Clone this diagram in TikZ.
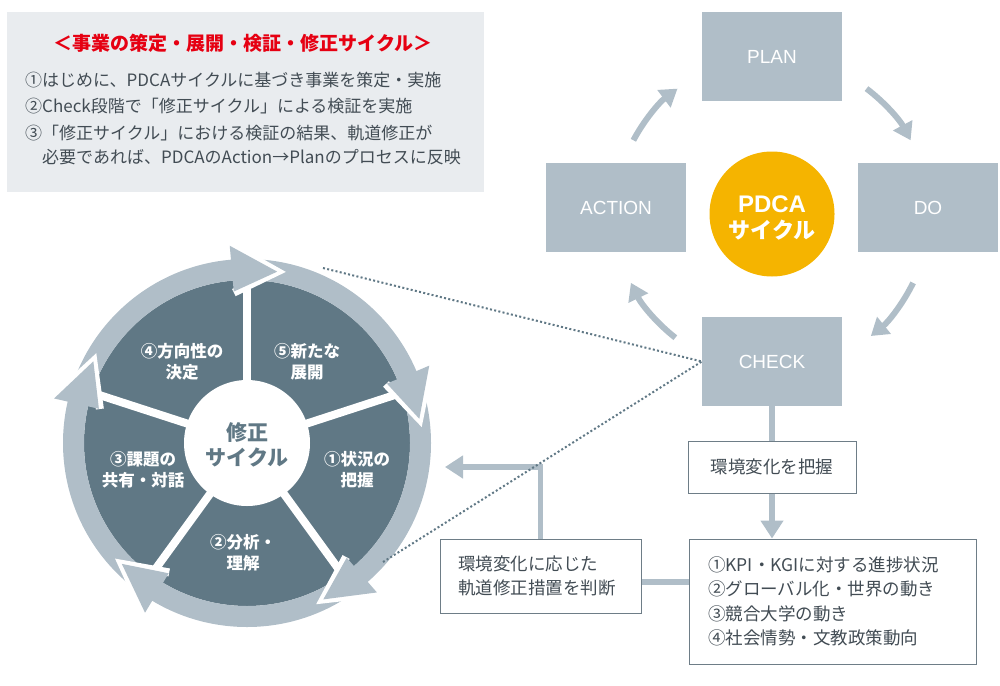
\documentclass[tikz,border=0pt]{standalone}
\usepackage{fontspec}
\setmainfont{Noto Sans CJK JP}
\newfontfamily\boxfont{Liberation Sans}
\usetikzlibrary{arrows.meta}
\definecolor{boxgray}{RGB}{176,190,200}
\definecolor{slate}{RGB}{96,120,133}
\definecolor{notebg}{RGB}{233,236,239}
\definecolor{pdcaorange}{RGB}{245,180,0}
\definecolor{titlered}{RGB}{230,0,18}
\definecolor{textgray}{RGB}{66,76,84}
\definecolor{edgegray}{RGB}{110,125,135}
\newcommand{\fsz}[2]{\fontsize{#1}{#2}\selectfont}

\begin{document}
\begin{tikzpicture}[x=1pt,y=-1pt]
\tikzstyle{every node}=[inner sep=0pt]
\tikzstyle{pdcabox}=[rectangle, fill=boxgray, minimum width=140pt, minimum height=89pt, text=white, font=\boxfont\fsz{19}{20}]
\tikzstyle{infobox}=[rectangle, draw=edgegray, line width=1pt, fill=white, text=textgray, align=left, font=\fsz{17.5}{24.5}]
\tikzstyle{flow}=[boxgray, line width=5.5pt]
\tikzstyle{flowtip}=[-{Triangle[length=18pt,width=22pt]}]
\tikzstyle{cyc}=[boxgray, line width=6pt, -{Triangle[length=17pt,width=21pt]}]
\tikzstyle{seglabel}=[text=white, align=center, font=\bfseries\fsz{16.5}{21}]
\tikzstyle{notetext}=[anchor=base west, text=textgray, font=\fsz{17}{17}]
\tikzstyle{dotline}=[slate, line width=2pt, dash pattern=on 2pt off 2.3pt]
\useasboundingbox (0,0) rectangle (1000,685);

% note box
\node (note) [fill=notebg, minimum width=477pt, minimum height=180pt, anchor=north west] at (7,12) {};
\node (title) [anchor=base, text=titlered, font=\bfseries\fsz{19}{19}] at (243,50) {＜事業の策定・展開・検証・修正サイクル＞};
\node (line1) [notetext] at (25,86) {①はじめに、PDCAサイクルに基づき事業を策定・実施};
\node (line2) [notetext] at (25,112) {②Check段階で「修正サイクル」による検証を実施};
\node (line3) [notetext] at (25,139) {③「修正サイクル」における検証の結果、軌道修正が};
\node (line4) [notetext] at (42,163) {必要であれば、PDCAのAction→Planのプロセスに反映};

% PDCA
\node (plan) [pdcabox] at (772,56.5) {PLAN};
\node (action) [pdcabox] at (616,207.5) {ACTION};
\node (do) [pdcabox] at (928,207.5) {DO};
\node (check) [pdcabox] at (772,361.5) {CHECK};
\node (pdca) [circle, fill=pdcaorange, minimum size=125pt] at (772,214) {};
\node (pdcatext) [text=white, align=center, font=\bfseries\fsz{22}{26}] at (772,218) {{\boxfont\fsz{24}{26}PDCA}\\サイクル};
\begin{scope}[shift={(772,214)}, yscale=-1]
\draw[cyc] (152:157) arc[start angle=152, end angle=127, radius=157];
\draw[cyc] (53:157) arc[start angle=53, end angle=28, radius=157];
\draw[cyc] (-26:157) arc[start angle=-26, end angle=-51, radius=157];
\draw[cyc] (-128:157) arc[start angle=-128, end angle=-154, radius=157];
\end{scope}

% correction cycle
\begin{scope}[shift={(247,443)}, yscale=-1]
\fill[slate] (0,0) circle (163);
\foreach \s in {90,18,-54,-126,162}
  \draw[white, line width=8pt] (0,0) -- (\s:166);
\fill[boxgray, even odd rule] (0,0) circle (184) (0,0) circle (163);
\foreach \s in {90,18,-54,-126,162} {
  \draw[white, line width=8pt] (\s+5:199) -- (\s-10:174) -- (\s+5:151);
  \fill[boxgray] (\s+5:198) -- (\s-10:174) -- (\s+5:152) -- cycle;
}
\fill[white] (0,0) circle (63);
\end{scope}
\node (hub) [text=slate, align=center, font=\bfseries\fsz{21}{25}] at (247,445) {修正\\サイクル};
\node (seg1) [seglabel] at (357,470) {①状況の\\把握};
\node (seg2) [seglabel] at (243,553) {②分析・\\理解};
\node (seg3) [seglabel] at (143,470) {③課題の\\共有・対話};
\node (seg4) [seglabel] at (182,362) {④方向性の\\決定};
\node (seg5) [seglabel] at (307,362) {⑤新たな\\展開};

% check details
\node (grasp) [infobox, minimum width=168pt, minimum height=52pt] at (772,467) {環境変化を把握};
\node (factors) [infobox, text width=249pt, inner xsep=19pt, minimum height=125pt] at (832.5,601.5) {①KPI・KGIに対する進捗状況\\②グローバル化・世界の動き\\③競合大学の動き\\④社会情勢・文教政策動向};
\node (judge) [infobox, text width=165pt, inner xsep=18pt, minimum height=74pt] at (540.5,576) {環境変化に応じた\\軌道修正措置を判断};
\coordinate (back) at (445,467);
\draw[flow] (check.south) -- (grasp.north);
\draw[flow, flowtip] (grasp.south) -- (grasp.south |- factors.north);
\draw[flow] ([yshift=-6pt]judge.east) -- ([yshift=-6pt]judge.east -| factors.west);
\draw[flow, flowtip] (judge.north) |- (back);

% dotted zoom lines
\coordinate (ringtop) at (323,268);
\coordinate (ringbot) at (383,562);
\draw[dotline] (ringtop) -- (check.west);
\draw[dotline] (ringbot) -- (check.west);
\end{tikzpicture}
\end{document}
